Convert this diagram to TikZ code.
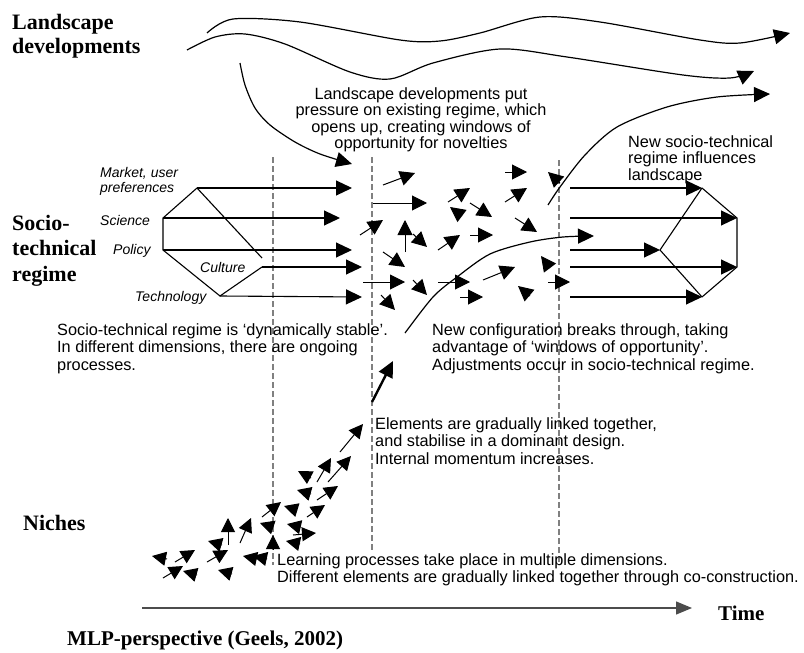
\documentclass[tikz,border=0pt]{standalone}
\usepackage{fontspec}
\setmainfont{Liberation Serif}
\setsansfont{Liberation Sans}
\usetikzlibrary{arrows.meta}
\begin{document}
\begin{tikzpicture}[x=1pt,y=-1pt,
  title/.style={font=\fontsize{22}{24}\selectfont\bfseries, inner sep=0},
  body/.style={font=\sffamily\fontsize{16.3}{17.5}\selectfont, inner sep=0},
  lab/.style={font=\sffamily\itshape\fontsize{14}{15}\selectfont, inner sep=0},
  arr/.style={line width=1.1pt, -{Triangle[length=16pt,width=15pt]}},
  sarr/.style={line width=1pt, -{Triangle[length=15pt,width=15pt]}},
  narr/.style={line width=1pt, -{Triangle[length=14pt,width=14pt]}},
  curve/.style={line width=1.2pt, -{Triangle[length=16pt,width=15pt]}},
  vdash/.style={dash pattern=on 6pt off 3pt, line width=1.3pt, draw=gray},
  plain/.style={line width=1.1pt}]
\useasboundingbox (0,0) rectangle (804,653);

% dashed verticals
\draw[vdash] (273,157) -- (273,565);
\draw[vdash] (372,157) -- (372,550);
\draw[vdash] (559,160) -- (559,565);

% titles
\node[title, anchor=base west] (tland) at (12,30) {\begin{tabular}[t]{@{}l@{}}Landscape\\developments\end{tabular}};
\node[title, anchor=base west, font=\fontsize{22}{25.5}\selectfont\bfseries] (tsoc) at (12,230) {\begin{tabular}[t]{@{}l@{}}Socio-\\technical\\regime\end{tabular}};
\node[title, anchor=base west] (tniche) at (23,530) {Niches};
\node[title, anchor=base west, font=\fontsize{21}{24}\selectfont\bfseries] (ttime) at (718,620) {Time};
\node[title, anchor=base west, font=\fontsize{21}{24}\selectfont\bfseries] (tmlp) at (67,645) {MLP-perspective (Geels, 2002)};

% body texts
\node[body, anchor=base, font=\sffamily\fontsize{16.3}{16}\selectfont] (t1) at (421,99) {\begin{tabular}[t]{@{}c@{}}Landscape developments put\\pressure on existing regime, which\\opens up, creating windows of\\opportunity for novelties\end{tabular}};
\node[body, anchor=base west, font=\sffamily\fontsize{16.3}{16}\selectfont] (t2) at (628,147) {\begin{tabular}[t]{@{}l@{}}New socio-technical\\regime influences\\landscape\end{tabular}};
\node[body, anchor=base west] (t3) at (57,335) {\begin{tabular}[t]{@{}l@{}}Socio-technical regime is ‘dynamically stable’.\\In different dimensions, there are ongoing\\processes.\end{tabular}};
\node[body, anchor=base west] (t4) at (432,335) {\begin{tabular}[t]{@{}l@{}}New configuration breaks through, taking\\advantage of ‘windows of opportunity’.\\Adjustments occur in socio-technical regime.\end{tabular}};
\node[body, anchor=base west] (t5) at (375,429) {\begin{tabular}[t]{@{}l@{}}Elements are gradually linked together,\\and stabilise in a dominant design.\\Internal momentum increases.\end{tabular}};
\node[body, anchor=base west, font=\sffamily\fontsize{16.3}{17}\selectfont] (t6) at (277,565) {\begin{tabular}[t]{@{}l@{}}Learning processes take place in multiple dimensions.\\Different elements are gradually linked together through co-construction.\end{tabular}};

% regime labels
\node[lab, anchor=base west] (lmarket) at (100,177) {\begin{tabular}[t]{@{}l@{}}Market, user\\preferences\end{tabular}};
\node[lab, anchor=base west] (lsci) at (100,225) {Science};
\node[lab, anchor=base west] (lpol) at (113,254) {Policy};
\node[lab, anchor=base west] (lcul) at (200,272) {Culture};
\node[lab, anchor=base west] (ltech) at (135,301) {Technology};

% left regime structure
\coordinate (ML) at (197,188);
\coordinate (SL) at (163,218);
\coordinate (PL) at (163,250);
\coordinate (CL) at (262,267);
\coordinate (TL) at (220,296);
\coordinate (DG) at (262,258);
\draw[plain] (ML) -- (SL) -- (PL) -- (TL) -- (CL);
\draw[plain] (ML) -- (DG);
\draw[arr] (ML) -- (352,188);
\draw[arr] (SL) -- (340,218);
\draw[arr] (PL) -- (352,250);
\draw[arr] (CL) -- (362,267);
\draw[arr] (TL) -- (362,297);

% right regime structure
\coordinate (RA) at (702,188);
\coordinate (RB) at (737,218);
\coordinate (RC) at (660,250);
\coordinate (RD) at (737,267);
\coordinate (RE) at (702,297);
\draw[arr] (570,188) -- (RA);
\draw[arr] (570,218) -- (RB);
\draw[arr] (570,250) -- (RC);
\draw[arr] (570,267) -- (RD);
\draw[arr] (570,297) -- (RE);
\draw[plain] (RA) -- (RC) -- (RE);
\draw[plain] (RA) -- (RB) -- (RD) -- (RE);

% landscape curves
\draw[curve] plot[smooth] coordinates {(207,33) (233,19) (300,22) (400,40) (440,41) (480,33) (540,17) (600,22) (700,40) (740,43) (790,33)};
\draw[curve] plot[smooth] coordinates {(187,50) (215,37) (245,34) (285,44) (350,72) (390,79) (433,63) (500,49) (567,57) (683,75) (730,78) (754,71)};
\draw[curve] plot[smooth] coordinates {(240,63) (245,85) (255,108) (270,125) (295,142) (320,154) (352,164)};
\draw[curve] plot[smooth] coordinates {(548,205) (560,187) (585,155) (617,127) (667,107) (717,97) (770,94)};
\draw[curve] plot[smooth] coordinates {(405,333) (433,297) (457,277) (490,254) (530,242) (563,237) (594,236)};
\draw[line width=2.4pt, -{Triangle[length=16pt,width=15pt]}] (372,402) -- (393,361);

% scatter in regime
\foreach \a/\b/\c/\d in {383/185/415/173, 373/203/427/203, 360/235/383/220, 405/252/405/220,
  413/234/427/247, 383/252/405/267, 363/282/405/282, 413/280/427/295, 381/295/395/310,
  448/202/470/188, 462/216/450/207, 470/203/492/217, 438/250/460/235, 470/235/493/235,
  438/282/470/282, 460/297/483/297, 483/280/515/267, 505/172/527/172, 505/202/527/188,
  515/218/537/232, 530/296/518/286, 550/268/541/256, 560/183/548/172, 548/282/570/282}
  \draw[sarr] (\a,\b) -- (\c,\d);

% scatter in niches
\foreach \a/\b/\c/\d in {167/559/152/556, 175/562/195/550, 163/578/183/566, 197/575/183/571,
  207/562/228/550, 222/545/208/541, 232/574/218/570, 228/545/228/518, 240/543/251/518,
  257/559/243/556, 267/559/253/556, 272/527/260/523, 262/517/281/502, 297/510/284/506,
  300/527/287/524, 273/549/273/535, 300/544/286/541, 293/535/316/533, 307/517/325/505,
  317/500/338/486, 311/494/297/490, 311/478/298/471, 317/482/331/458, 328/482/351/456,
  340/452/363/424}
  \draw[narr] (\a,\b) -- (\c,\d);

% time axis
\draw[line width=1.3pt, draw=black!70, -{Triangle[length=16pt,width=13pt]}] (142,608) -- (692,608);
\end{tikzpicture}
\end{document}
